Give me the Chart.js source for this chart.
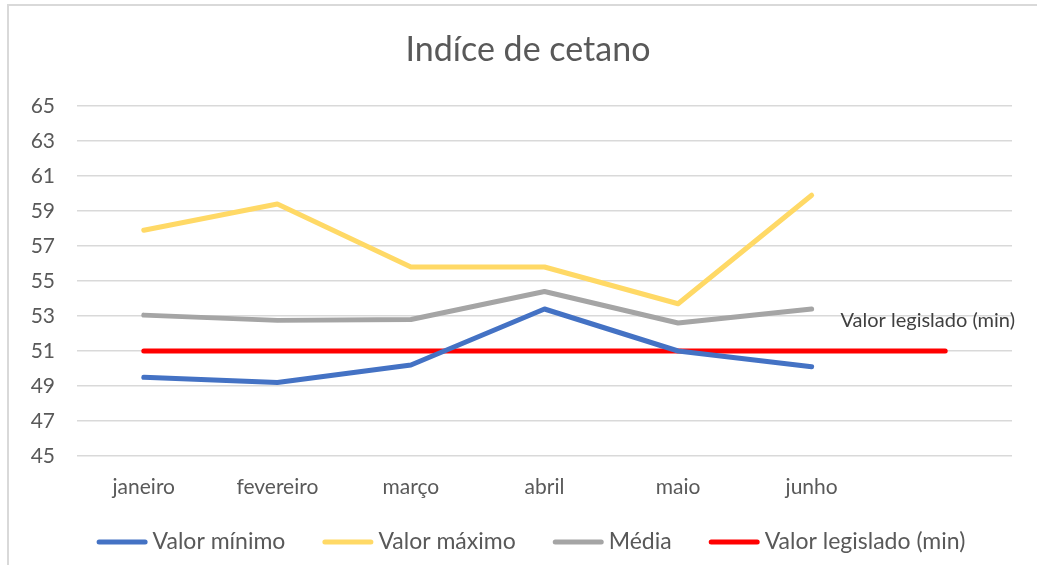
<!DOCTYPE html>
<html>
<head>
<meta charset="utf-8">
<script src="https://cdn.jsdelivr.net/npm/chart.js@4"></script>
<style>
  html, body { margin: 0; padding: 0; background: #fff; overflow: hidden; }
  #wrap { position: relative; width: 1037px; height: 565px; }
  #frame { position: absolute; left: 7px; top: 4px; width: 1040px; height: 570px;
           border: 2px solid #d9d9d9; box-sizing: border-box; }
  canvas { position: absolute; left: 0; top: 0; }
</style>
</head>
<body>
<div id="wrap">
  <div id="frame"></div>
  <canvas id="chart" width="1037" height="565"></canvas>
</div>
<script>
// data
let months = ["janeiro", "fevereiro", "março", "abril", "maio", "junho", ""];
let valorMinimo = [49.5, 49.2, 50.2, 53.4, 51.0, 50.1, null];
let valorMaximo = [57.9, 59.4, 55.8, 55.8, 53.7, 59.9, null];
let media = [53.05, 52.75, 52.8, 54.4, 52.6, 53.4, null];
let legislado = [51, 51, 51, 51, 51, 51, 51];
let yTicks = [45, 47, 49, 51, 53, 55, 57, 59, 61, 63, 65];
let chartTitle = "Indíce de cetano";
let lineLabel = "Valor legislado (min)";

let fontFamily = "Lato, 'Open Sans', sans-serif";
let textColor = "#595959";

function lineSet(label, data, color) {
    return {
        label: label,
        data: data,
        borderColor: color,
        backgroundColor: color,
        borderWidth: 5,
        borderCapStyle: 'round',
        borderJoinStyle: 'round',
        pointRadius: 0,
        pointHoverRadius: 0,
        tension: 0,
        spanGaps: false
    }
}

// title drawn by hand so it can sit where excel put it
const titlePlugin = {
    id: 'titlePlugin',
    afterDraw(chart) {
        const ctx = chart.ctx;
        ctx.save();
        ctx.font = "34px " + fontFamily;
        ctx.fillStyle = textColor;
        ctx.textAlign = "center";
        ctx.textBaseline = "middle";
        ctx.fillText(chartTitle, 528, 50);
        ctx.restore();
    }
};

// excel style legend: line sample right against the text
const legendPlugin = {
    id: 'legendPlugin',
    afterDraw(chart) {
        const ctx = chart.ctx;
        const lineW = 51, gapText = 5, gapItem = 37, y = 542, center = 531;
        ctx.save();
        ctx.font = "23px " + fontFamily;
        let items = chart.data.datasets.map(ds => ({
            label: ds.label, color: ds.borderColor, w: ctx.measureText(ds.label).width
        }));
        let total = items.reduce((s, it) => s + lineW + gapText + it.w, 0) + gapItem * (items.length - 1);
        let x = center - total / 2;
        items.forEach(it => {
            ctx.strokeStyle = it.color;
            ctx.lineWidth = 5;
            ctx.lineCap = 'round';
            ctx.beginPath();
            ctx.moveTo(x + 2.5, y);
            ctx.lineTo(x + lineW - 2.5, y);
            ctx.stroke();
            ctx.fillStyle = textColor;
            ctx.textAlign = "left";
            ctx.textBaseline = "middle";
            ctx.fillText(it.label, x + lineW + gapText, y);
            x += lineW + gapText + it.w + gapItem;
        });
        ctx.restore();
    }
};

// label at the end of the red line (like the excel data label)
const endLabel = {
    id: 'endLabel',
    afterDatasetsDraw(chart) {
        const meta = chart.getDatasetMeta(3);
        const pt = meta.data[meta.data.length - 1];
        const ctx = chart.ctx;
        ctx.save();
        ctx.font = "20px " + fontFamily;
        ctx.fillStyle = "#404040";
        ctx.textAlign = "center";
        ctx.textBaseline = "middle";
        const w = ctx.measureText(lineLabel).width;
        let x = Math.min(pt.x, chart.chartArea.right + 3 - w / 2);
        ctx.fillText(lineLabel, x, pt.y - 30);
        ctx.restore();
    }
};

let theChart = new Chart(document.getElementById("chart"), {
    type: 'line',
    data: {
        labels: months,
        datasets: [
            lineSet("Valor mínimo", valorMinimo, "#4472C4"),
            lineSet("Valor máximo", valorMaximo, "#FFD966"),
            lineSet("Média", media, "#A5A5A5"),
            lineSet(lineLabel, legislado, "#FF0000")
        ]
    },
    options: {
        responsive: false,
        animation: false,
        events: [],
        layout: { padding: { left: 8, right: 25, top: 106, bottom: 63 } },
        plugins: {
            title: { display: false },
            legend: { display: false },
            tooltip: { enabled: false }
        },
        scales: {
            x: {
                offset: true,
                grid: { display: false, drawTicks: false },
                border: { display: false },
                afterFit: scale => { scale.height = 46 },
                ticks: {
                    color: textColor,
                    font: { family: fontFamily, size: 21 },
                    padding: 19,
                    maxRotation: 0
                }
            },
            y: {
                min: 45,
                max: 65,
                afterBuildTicks: scale => { scale.ticks = yTicks.map(v => ({ value: v })) },
                afterFit: scale => { scale.width = 69 },
                grid: { color: "#D9D9D9", lineWidth: 1.5, drawTicks: false },
                border: { display: false },
                ticks: {
                    color: textColor,
                    font: { family: fontFamily, size: 21 },
                    padding: 22
                }
            }
        }
    },
    plugins: [endLabel, titlePlugin, legendPlugin]
});
</script>
</body>
</html>
